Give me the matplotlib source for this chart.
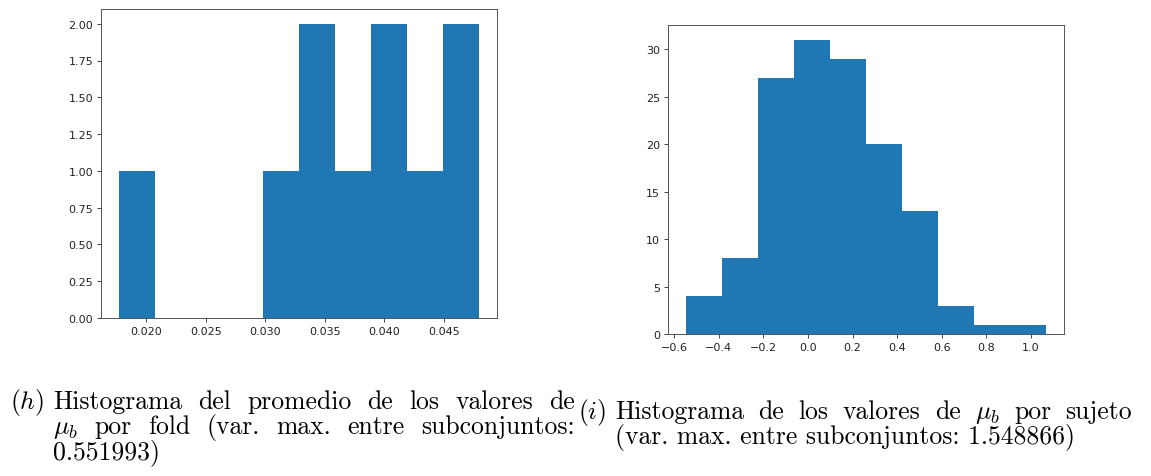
import numpy as np
import matplotlib
matplotlib.use("Agg")
import matplotlib.pyplot as plt
from matplotlib.transforms import IdentityTransform

# histograma del promedio de mu_b por fold (10 folds)
fold_counts = [1, 0, 0, 0, 1, 2, 1, 2, 1, 2]
fold_range = (0.01771, 0.04794)

# histograma de mu_b por sujeto
subj_counts = [4, 8, 27, 31, 29, 20, 13, 3, 1, 1]
subj_range = (-0.5463, 1.067)

cap_h = [
    ["Histograma", "del", "promedio", "de", "los", "valores", "de"],
    [r"$\mu_b$", "por", "fold", "(var.", "max.", "entre", "subconjuntos:"],
    ["0.551993)"],
]
cap_i = [
    ["Histograma", "de", "los", "valores", "de", r"$\mu_b$", "por", "sujeto"],
    ["(var. max. entre subconjuntos: 1.548866)"],
]

W, H = 1151, 477
plt.rcParams["mathtext.fontset"] = "cm"
fig = plt.figure(figsize=(W / 100, H / 100), dpi=100)


def histo(rect, counts, rng):
    ax = fig.add_axes(rect)
    edges = np.linspace(rng[0], rng[1], len(counts) + 1)
    ax.hist(edges[:-1], bins=edges, weights=counts, color="C0")
    ax.tick_params(labelsize=8, length=2.8, width=0.64, pad=2.8,
                   color="#333333", labelcolor="#222222")
    for s in ax.spines.values():
        s.set_linewidth(0.64)
        s.set_color("#444444")
    return ax


ax1 = histo([101 / W, 1 - 319 / H, 396 / W, 309 / H], fold_counts, fold_range)
ax1.set_yticks(np.arange(0, 2.01, 0.25))
ax1.yaxis.set_major_formatter(plt.FormatStrFormatter("%.2f"))
ax1.xaxis.set_major_formatter(plt.FormatStrFormatter("%.3f"))

ax2 = histo([668 / W, 1 - 335 / H, 396 / W, 309 / H], subj_counts, subj_range)

renderer = fig.canvas.get_renderer()
FS = 18.5


def put_line(words, x0, y, x1=None):
    # y viene en pixeles desde arriba
    yy = H - y
    txts = [fig.text(0, yy, w, fontsize=FS, family="cmr10", va="baseline",
                     transform=IdentityTransform()) for w in words]
    widths = [t.get_window_extent(renderer).width for t in txts]
    if x1 is None or len(words) == 1:
        gap = FS * 100 / 72 * 0.333
    else:
        gap = (x1 - x0 - sum(widths)) / (len(words) - 1)
    x = x0
    for t, w in zip(txts, widths):
        t.set_x(x)
        x += w + gap


def caption(label, lines, xl, xt, x1, y0, dy):
    fig.text(xl, H - y0, label, fontsize=FS, va="baseline",
             transform=IdentityTransform())
    for k, words in enumerate(lines):
        last = k == len(lines) - 1 and len(lines) > 2
        put_line(words, xt, y0 + k * dy, None if last else x1)


caption(r"$(h)$", cap_h, 10, 53, 575, 409, 25)
caption(r"$(i)$", cap_i[:1], 578, 615, 1132, 419, 25)
put_line(cap_i[1], 615, 419 + 25)

fig.savefig("out.png", dpi=100)
